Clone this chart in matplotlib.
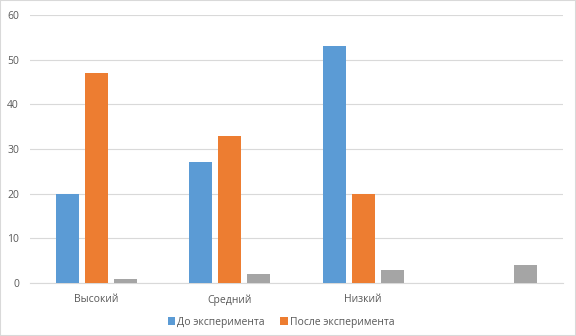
import matplotlib
matplotlib.use("Agg")
import matplotlib.pyplot as plt
import numpy as np
from matplotlib.patches import Rectangle

categories = ["Высокий", "Средний", "Низкий", ""]
before = [20, 27, 53, np.nan]
after = [47, 33, 20, np.nan]
series3 = [1, 2, 3, 4]
series_names = ["До эксперимента", "После эксперимента"]
yticks = [0, 10, 20, 30, 40, 50, 60]

plt.rcParams['font.family'] = ['Open Sans', 'DejaVu Sans']
fig = plt.figure(figsize=(5.76, 3.36), dpi=100)
ax = fig.add_axes([30/576, 53/336, 533/576, 268/336])

x = np.arange(len(categories))
w = 23/133.25
step = 29/133.25
ax.bar(x - step, before, w, color="#5B9BD5", label=series_names[0], zorder=3)
ax.bar(x, after, w, color="#ED7D31", label=series_names[1], zorder=3)
ax.bar(x + step, series3, w, color="#A5A5A5", zorder=3)

ax.set_xlim(-0.5, 3.5)
ax.set_ylim(0, 60)
ax.set_yticks(yticks)
ax.set_xticks(x)
ax.set_xticklabels(categories)
ax.grid(axis='y', color="#D9D9D9", linewidth=0.8, zorder=0)
for s in ["top", "right", "left"]:
    ax.spines[s].set_visible(False)
ax.spines["bottom"].set_color("#D9D9D9")
ax.tick_params(axis='both', length=0, colors="#595959", labelsize=7.5)
ax.tick_params(axis='x', pad=8)
ax.tick_params(axis='y', pad=8)

leg = fig.legend(loc="center", bbox_to_anchor=(281/576, 1 - 322/336), ncol=2,
                 frameon=False, fontsize=7.5, handlelength=0.7, handleheight=0.7,
                 handletextpad=0.2, columnspacing=1.5)
for t in leg.get_texts():
    t.set_color("#595959")

fig.patches.append(Rectangle((0, 0), 1, 1, transform=fig.transFigure, fill=False,
                             edgecolor="#D9D9D9", linewidth=1.5))
fig.savefig("out.png", dpi=100)
